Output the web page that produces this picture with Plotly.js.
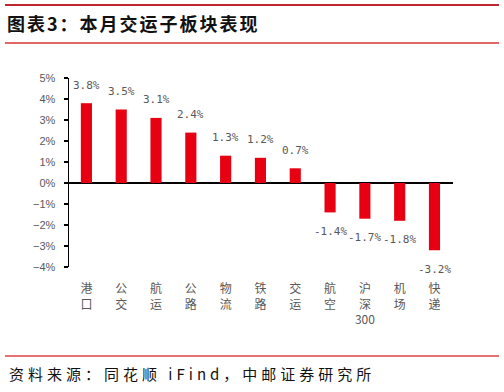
<!DOCTYPE html>
<html>
<head>
<meta charset="utf-8">
<script src="https://cdn.plot.ly/plotly-3.0.1.min.js"></script>
<style>
  html, body { margin: 0; padding: 0; background: #fff; }
  #chart { width: 504px; height: 392px; }
  .gtitle { letter-spacing: 2px; }
  .annotation[data-index="0"] .annotation-text { letter-spacing: 4px; }
</style>
</head>
<body>
<div id="chart"></div>
<script>
const categories = ['港口','公交','航运','公路','物流','铁路','交运','航空','沪深300','机场','快递'];
const values = [3.8, 3.5, 3.1, 2.4, 1.3, 1.2, 0.7, -1.4, -1.7, -1.8, -3.2];
const yTickVals = [-4, -3, -2, -1, 0, 1, 2, 3, 4, 5];
const titleText = '图表3：本月交运子板块表现';
const sourceText = '资料来源：同花顺 iFind，中邮证券研究所';

const W = 504, H = 392;
const M = { l: 69, r: 51, t: 78, b: 125 };
const pw = W - M.l - M.r, ph = H - M.t - M.b;
const px = x => (x - M.l) / pw;
const py = y => (H - M.b - y) / ph;

// stack CJK characters vertically, keep digit runs together
const tickText = categories.map(c => (c.match(/[0-9]+|./g) || []).join('<br>'));

const labelAnns = categories.map((c, i) => ({
  x: c, y: values[i], xref: 'x', yref: 'y',
  text: values[i].toFixed(1) + '%',
  showarrow: false, xanchor: 'center', yanchor: 'middle',
  yshift: values[i] >= 0 ? 18 : -19,
  font: { family: 'DejaVu Sans Mono', size: 11, color: '#595959' }
}));

const LS = 4; // letter spacing of the source line
const sourceAnn = {
  x: px(7), y: py(373), xref: 'paper', yref: 'paper',
  xshift: sourceText.length * LS / 2,
  text: sourceText, showarrow: false, xanchor: 'left', yanchor: 'middle',
  font: { family: 'Noto Sans CJK SC', size: 15, color: '#111' }
};

const line = (x0, x1, y, color, w) => ({
  type: 'line', xref: 'paper', yref: 'paper',
  x0: px(x0), x1: px(x1), y0: py(y), y1: py(y),
  line: { color: color, width: w }
});

const data = [{
  type: 'bar', x: categories, y: values,
  marker: { color: '#e60012' },
  width: 0.32, hoverinfo: 'none'
}];

const layout = {
  width: W, height: H,
  margin: M,
  paper_bgcolor: '#fff', plot_bgcolor: '#fff',
  showlegend: false,
  title: {
    text: titleText, x: 7 / W, xref: 'container', xanchor: 'left',
    y: 1 - 25 / H, yref: 'container', yanchor: 'middle',
    font: { family: 'Noto Sans CJK SC', size: 18, color: '#111', weight: 'bold' }
  },
  xaxis: {
    type: 'category', tickvals: categories, ticktext: tickText,
    showline: false, ticks: '', showgrid: false, zeroline: false,
    tickfont: { family: 'Noto Sans CJK SC', size: 12, color: '#595959' },
    ticklabelstandoff: 13, fixedrange: true
  },
  yaxis: {
    range: [-4, 5], tickvals: yTickVals,
    ticktext: yTickVals.map(v => (v < 0 ? '\u2212' + Math.abs(v) : v) + '%'),
    showline: true, linecolor: '#000', linewidth: 1.5,
    ticks: 'outside', ticklen: 4, tickcolor: '#000', tickwidth: 1.5,
    showgrid: false, zeroline: true, zerolinecolor: '#000', zerolinewidth: 1.5,
    tickfont: { family: 'Liberation Sans', size: 11, color: '#595959' },
    ticklabelstandoff: 6, fixedrange: true
  },
  annotations: [sourceAnn].concat(labelAnns),
  shapes: [
    line(5, 499, 5, '#c0262d', 2),
    line(5, 499, 43, '#e26868', 2),
    line(5, 499, 356, '#e57373', 2)
  ]
};

Plotly.newPlot('chart', data, layout, { displayModeBar: false, staticPlot: true });
</script>
</body>
</html>
